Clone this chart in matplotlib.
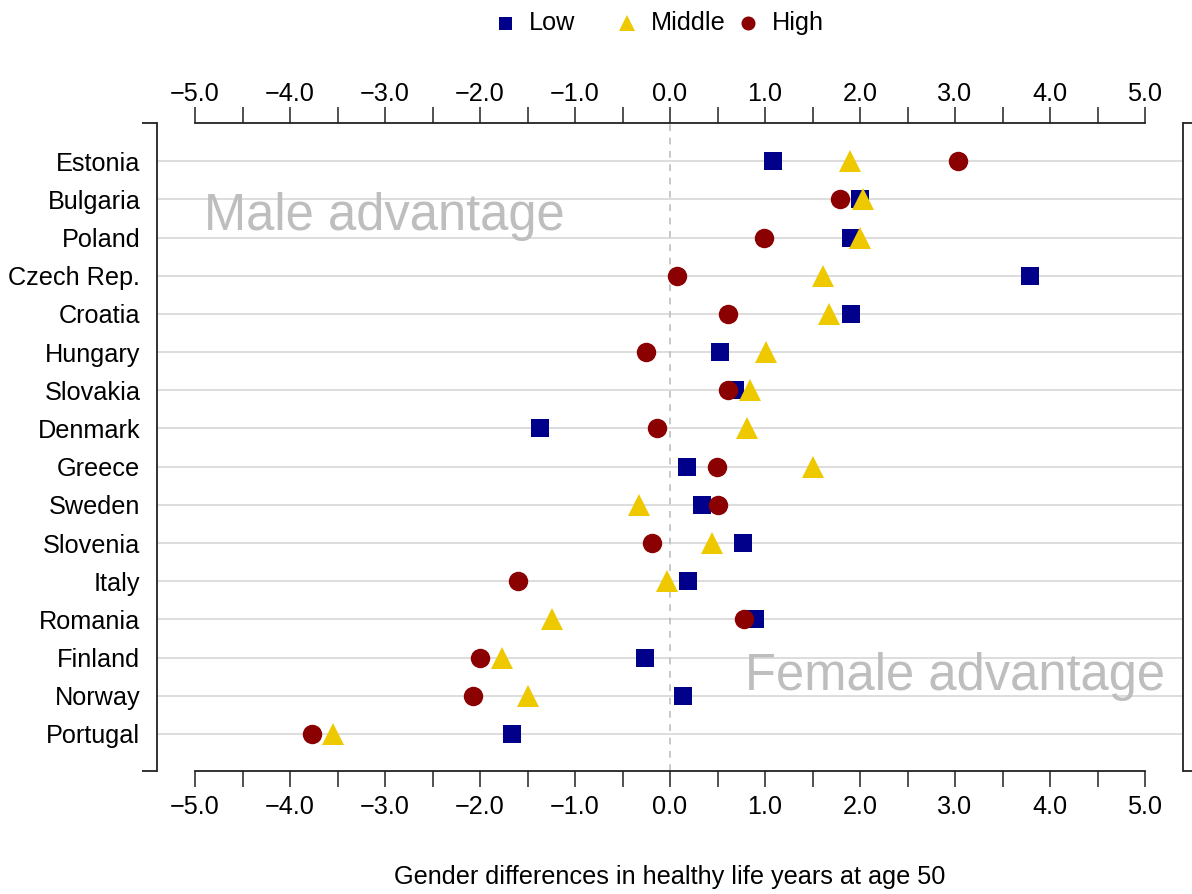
import matplotlib
matplotlib.use("Agg")
import matplotlib.pyplot as plt
from matplotlib.lines import Line2D

# gender differences in healthy life years at age 50, by education level
COUNTRIES = ["Estonia", "Bulgaria", "Poland", "Czech Rep.", "Croatia", "Hungary",
             "Slovakia", "Denmark", "Greece", "Sweden", "Slovenia", "Italy",
             "Romania", "Finland", "Norway", "Portugal"]
LOW = [1.08, 2.00, 1.91, 3.79, 1.905, 0.53, 0.68, -1.37, 0.18, 0.34, 0.77, 0.19,
       0.895, -0.26, 0.14, -1.66]
MIDDLE = [1.895, 2.03, 2.00, 1.61, 1.67, 1.01, 0.845, 0.81, 1.50, -0.33, 0.44, -0.03,
          -1.245, -1.765, -1.495, -3.545]
HIGH = [3.03, 1.79, 0.99, 0.075, 0.61, -0.255, 0.615, -0.14, 0.49, 0.51, -0.19, -1.60,
        0.775, -2.00, -2.07, -3.765]
GROUPS = ["Low", "Middle", "High"]
TICKS = [-5, -4, -3, -2, -1, 0, 1, 2, 3, 4, 5]

COLORS = {"Low": "#00008B", "Middle": "#EEC900", "High": "#8B0000"}
MARKERS = {"Low": ("s", 13), "Middle": ("^", 16), "High": ("o", 14)}
FS = 18.2
GREY_TXT = "#BEBEBE"
DARK = "#222222"

plt.rcParams["font.family"] = ["Liberation Sans", "DejaVu Sans"]

fig = plt.figure(figsize=(11.92, 8.94), dpi=100)
ax = fig.add_axes([157 / 1192, 1 - 771 / 894, (1183 - 157) / 1192, (771 - 123) / 894])

n = len(COUNTRIES)
ypos = list(range(n, 0, -1))
ylo, yhi = 0.03, n + 1.0
ax.set_xlim(-5.4, 5.4)
ax.set_ylim(ylo, yhi)

# grid + zero reference
for y in ypos:
    ax.axhline(y, color="#D3D3D3", lw=1.1, zorder=1)
ax.axvline(0, color="#BEBEBE", lw=1.2, ls=(0, (4, 4)), zorder=1)

for g, vals in zip(GROUPS, [LOW, MIDDLE, HIGH]):
    m, ms = MARKERS[g]
    ax.plot(vals, ypos, ls="none", marker=m, ms=ms, color=COLORS[g],
            markeredgewidth=0, zorder=3)

# axes styling (R base-graphics look)
for s in ["top", "bottom"]:
    ax.spines[s].set_bounds(-5, 5)
for s in ax.spines.values():
    s.set_linewidth(1.3)
    s.set_color(DARK)

labels = [f"{t:.1f}".replace("-", "\u2212") for t in TICKS]
minor = [t + 0.5 for t in TICKS[:-1]]

ax.set_xticks(TICKS)
ax.set_xticks(minor, minor=True)
ax.set_xticklabels(labels)
ax.tick_params(axis="x", which="both", top=False, bottom=True,
               direction="out", length=11.5, width=1.1, color=DARK,
               labelsize=FS, pad=6)

top = ax.secondary_xaxis("top")
top.set_xticks(TICKS)
top.set_xticks(minor, minor=True)
top.set_xticklabels(labels)
top.spines["top"].set_visible(False)
top.tick_params(axis="x", which="both", direction="out", length=11.5, width=1.1,
                color=DARK, labelsize=FS, pad=0.5)

ax.set_yticks(ypos)
ax.set_yticklabels(COUNTRIES)
ax.set_yticks([ylo, yhi], minor=True)
ax.tick_params(axis="y", which="major", length=0, labelsize=FS, pad=12)
ax.tick_params(axis="y", which="minor", left=True, right=True, direction="out",
               length=11, width=1.3, color=DARK)

ax.text(-4.9, 14.19, "Male advantage", fontsize=36.5, color=GREY_TXT,
        ha="left", va="baseline", zorder=2)
ax.text(5.21, 2.15, "Female advantage", fontsize=36.5, color=GREY_TXT,
        ha="right", va="baseline", zorder=2)

fig.text(669.5 / 1192, 1 - 877 / 894, "Gender differences in healthy life years at age 50",
         ha="center", va="center", fontsize=FS)

# legend row on top, equal spacing like R's horizontal legend
LEG_X = [505, 627, 748]
LEG_Y = 1 - 23 / 894
for g, lx in zip(GROUPS, LEG_X):
    m, ms = MARKERS[g]
    fig.add_artist(Line2D([lx / 1192], [LEG_Y], marker=m, ms=ms * 0.72, ls="none",
                          color=COLORS[g], markeredgewidth=0, transform=fig.transFigure))
    fig.text((lx + 24) / 1192, LEG_Y, g, ha="left", va="center", fontsize=FS)

fig.savefig("out.png", dpi=100)
